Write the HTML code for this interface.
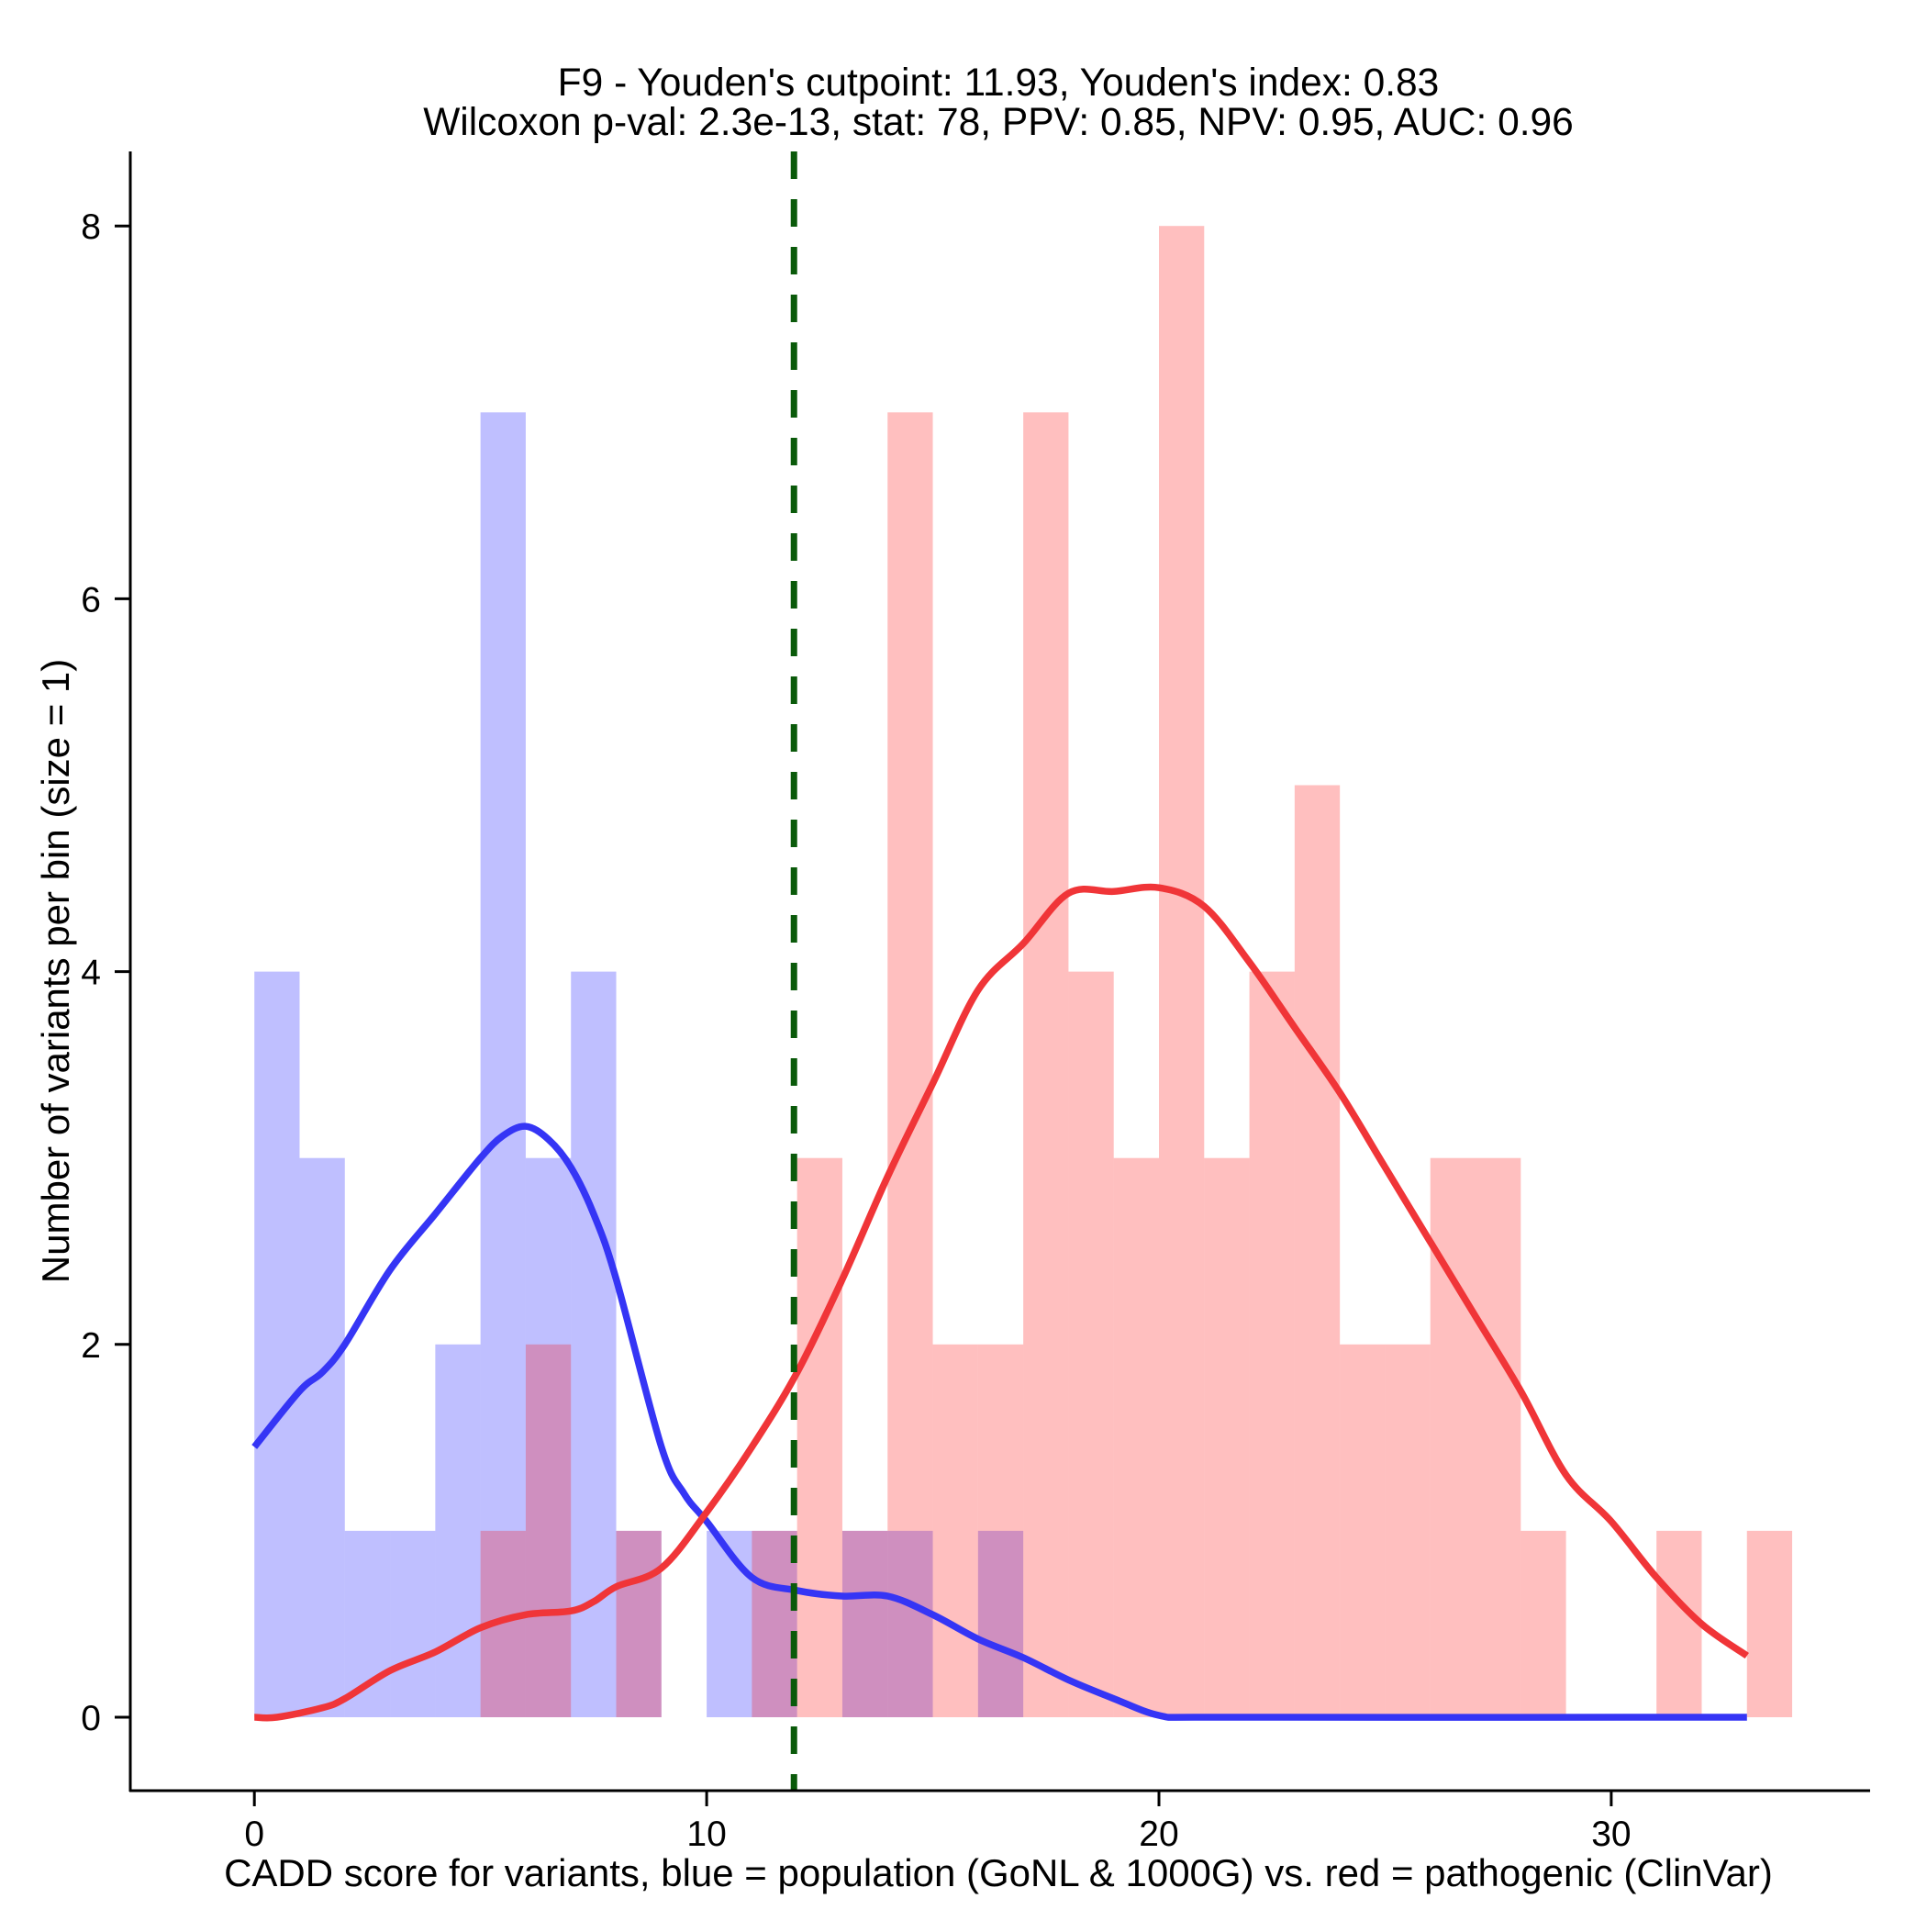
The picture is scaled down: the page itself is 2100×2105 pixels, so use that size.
<!DOCTYPE html>
<html><head><meta charset="utf-8"><style>
html,body{margin:0;padding:0;background:#fff;}
svg text{font-family:"Liberation Sans",Arial,sans-serif;fill:#000;}
</style></head><body>
<svg id="chart" width="2100" height="2100" viewBox="0 0 2100 2100" xmlns="http://www.w3.org/2000/svg">
<rect width="2100" height="2100" fill="#fff"/>
<g id="bars"></g>
<g id="lines"></g>
<g id="axes"></g>
<text x="1088" y="104" font-size="42.5" text-anchor="middle">F9 - Youden's cutpoint: 11.93, Youden's index: 0.83</text>
<text x="1088" y="147" font-size="42.5" text-anchor="middle">Wilcoxon p-val: 2.3e-13, stat: 78, PPV: 0.85, NPV: 0.95, AUC: 0.96</text>
<text x="1088" y="2055" font-size="42" text-anchor="middle">CADD score for variants, blue = population (GoNL &amp; 1000G) vs. red = pathogenic (ClinVar)</text>
<text transform="translate(75,1058) rotate(-90)" font-size="42" text-anchor="middle">Number of variants per bin (size = 1)</text>
</svg>
<script>
const blueCounts = [4,3,1,1,2,7,3,4,1,0,1,1,0,1,1,0,1];
const redCounts = [0,0,0,0,0,1,2,0,1,0,0,1,3,1,7,2,2,7,4,3,8,3,4,5,2,2,3,3,1,0,0,1,0,1];
const blueDensX = [0,1,1.5,2,3,4,5,5.5,6,6.5,7,7.5,8,9,9.5,10,11,12,13,14,15,16,17,18,19,20,21,33];
const blueDensY = [1.45,1.75,1.85,2.0,2.4,2.7,3.0,3.12,3.17,3.1,2.95,2.7,2.35,1.45,1.2,1.05,0.75,0.68,0.65,0.65,0.55,0.42,0.32,0.2,0.1,0.01,0,0];
const redDensX = [0,0.5,1.5,2,3,4,5,6,7,7.5,8,9,10,11,12,13,14,15,16,17,18,19,20,21,22,23,24,25,26,27,28,29,30,31,32,33];
const redDensY = [0,0,0.05,0.1,0.25,0.35,0.48,0.55,0.57,0.62,0.7,0.8,1.1,1.45,1.85,2.35,2.9,3.4,3.9,4.15,4.42,4.43,4.45,4.35,4.05,3.7,3.35,2.95,2.55,2.15,1.75,1.3,1.05,0.75,0.5,0.33];
const xTicks = [0,10,20,30];
const yTicks = [0,2,4,6,8];
const cutpoint = 11.93;

const X0=277.2, XS=49.29, Y0=1871, YS=203.1;
const sx=v=>X0+v*XS, sy=v=>Y0-v*YS;
const NS='http://www.w3.org/2000/svg';
function mk(tag,attrs,parent){const e=document.createElementNS(NS,tag);for(const k in attrs)e.setAttribute(k,attrs[k]);parent.appendChild(e);return e;}
const bars=document.getElementById('bars'), lines=document.getElementById('lines'), axes=document.getElementById('axes');

blueCounts.forEach((c,i)=>{ if(!c) return;
  const r=mk('rect',{x:sx(i),y:sy(c),width:XS,height:sy(0)-sy(c),fill:'rgba(0,0,255,0.25)'},bars);
  
  
});
redCounts.forEach((c,i)=>{ if(!c) return;
  const r=mk('rect',{x:sx(i),y:sy(c),width:XS,height:sy(0)-sy(c),fill:'rgba(255,0,0,0.25)'},bars);
  
  
});
function path(xs,ys){
  const p=xs.map((x,i)=>[sx(x),sy(ys[i])]);
  let d='M'+p[0][0].toFixed(1)+','+p[0][1].toFixed(1);
  const k=1/6;
  for(let i=0;i<p.length-1;i++){
    const p0=p[Math.max(0,i-1)],p1=p[i],p2=p[i+1],p3=p[Math.min(p.length-1,i+2)];
    let c1=[p1[0]+(p2[0]-p0[0])*k,p1[1]+(p2[1]-p0[1])*k];
    let c2=[p2[0]-(p3[0]-p1[0])*k,p2[1]-(p3[1]-p1[1])*k];
    c1[0]=Math.min(Math.max(c1[0],p1[0]),p2[0]);
    c2[0]=Math.min(Math.max(c2[0],p1[0]),p2[0]);
    d+='C'+c1[0].toFixed(1)+','+c1[1].toFixed(1)+' '+c2[0].toFixed(1)+','+c2[1].toFixed(1)+' '+p2[0].toFixed(1)+','+p2[1].toFixed(1);
  }
  return d;
}
const bl=mk('path',{d:path(blueDensX,blueDensY),fill:'none',stroke:'#3535f5',"stroke-width":7.5,"stroke-linejoin":'round'},lines);


const rl=mk('path',{d:path(redDensX,redDensY),fill:'none',stroke:'#f03538',"stroke-width":7.5,"stroke-linejoin":'round'},lines);


const cl=mk('line',{x1:sx(cutpoint),x2:sx(cutpoint),y1:165,y2:1951,stroke:'#0a5a0a',"stroke-width":7,"stroke-dasharray":'30 22'},lines);



const ya=mk('line',{x1:142,x2:142,y1:165,y2:1952,stroke:'#000',"stroke-width":3},axes);


const xa=mk('line',{x1:141,x2:2038,y1:1951,y2:1951,stroke:'#000',"stroke-width":3},axes);


xTicks.forEach(t=>{
  mk('line',{x1:sx(t),x2:sx(t),y1:1951,y2:1968,stroke:'#000',"stroke-width":3},axes);
  const tx=mk('text',{x:sx(t),y:2011,"font-size":39,"text-anchor":'middle'},axes);
  tx.textContent=t;
  
  
});
yTicks.forEach(t=>{
  mk('line',{x1:125,x2:142,y1:sy(t),y2:sy(t),stroke:'#000',"stroke-width":3},axes);
  const tx=mk('text',{x:110,y:sy(t)+14,"font-size":39,"text-anchor":'end'},axes);
  tx.textContent=t;
  
  
});
</script>
</body></html>
